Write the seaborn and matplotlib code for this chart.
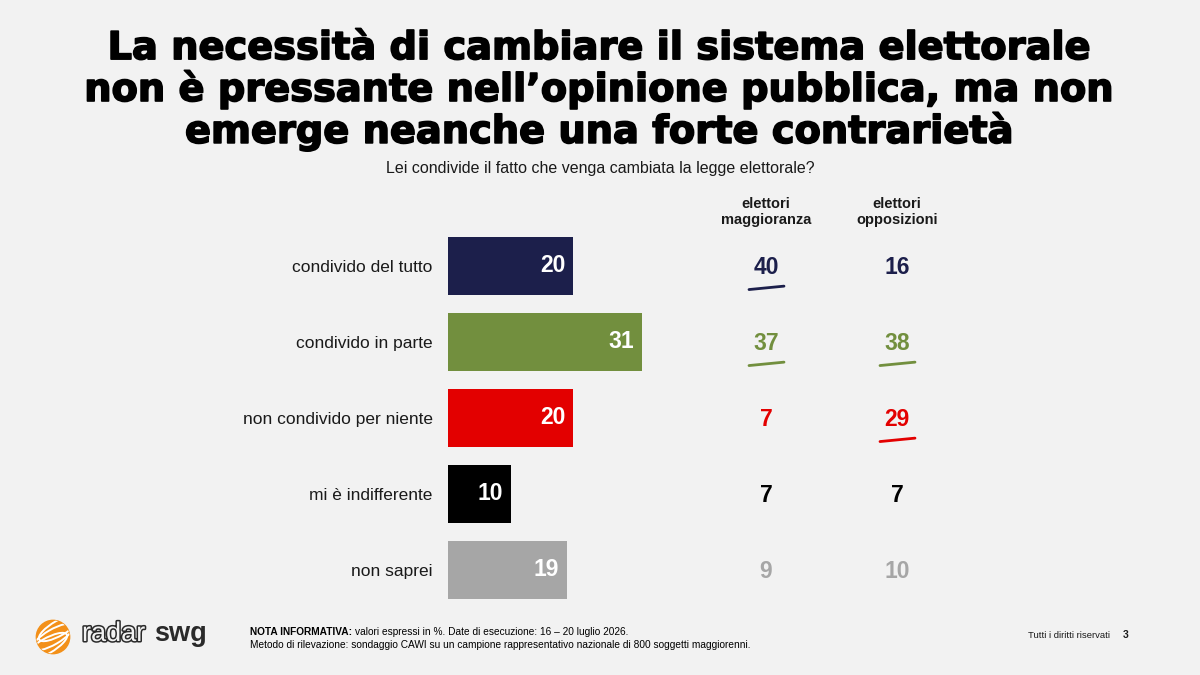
import matplotlib.pyplot as plt
import matplotlib.patheffects as pe
from matplotlib.transforms import blended_transform_factory
from matplotlib.patches import Circle, Ellipse
import seaborn as sns
import pandas as pd

# dati del sondaggio
categorie = ['condivido del tutto', 'condivido in parte', 'non condivido per niente',
             'mi è indifferente', 'non saprei']
totale = [20, 31, 20, 10, 19]
maggioranza = [40, 37, 7, 7, 9]
opposizioni = [16, 38, 29, 7, 10]
sottolinea_magg = [True, True, False, False, False]
sottolinea_opp = [False, True, True, False, False]
colori = ['#1c1f4b', '#728f3e', '#e30000', '#000000', '#a6a6a6']
colonne = ['elettori\nmaggioranza', 'elettori\nopposizioni']

BG = '#f2f2f2'
sns.set_theme(style='white')
plt.rcParams['font.family'] = ['Liberation Sans', 'DejaVu Sans']

df = pd.DataFrame({'categoria': categorie, 'valore': totale})

fig = plt.figure(figsize=(12, 6.75), dpi=100, facecolor=BG)
W, H = 1200, 675
ax = fig.add_axes([448 / W, 1 - 608 / H, 552 / W, 380 / H])
ax.set_facecolor(BG)

sns.barplot(data=df, x='valore', y='categoria', hue='categoria', palette=colori,
            width=0.763, legend=False, ax=ax, saturation=1, edgecolor='none')
ax.set_xlim(0, 552 / 6.25)
ax.set_ylim(4.5, -0.5)
ax.set_xlabel('')
ax.set_ylabel('')
ax.set_xticks([])
ax.tick_params(axis='y', length=0, pad=11, labelsize=12.5, labelcolor='#1a1a1a')
sns.despine(ax=ax, left=True, bottom=True)

# etichette dentro le barre
for i, v in enumerate(totale):
    ax.text(v - 1.2, i, str(v), ha='right', va='center', color='white',
            fontsize=16.5, fontweight='bold')

# colonne laterali
tr = blended_transform_factory(fig.transFigure, ax.transData)
col_x = [766 / W, 897 / W]
for cx, nome in zip(col_x, colonne):
    fig.text(cx, 1 - 212 / H, nome, ha='center', va='center', fontsize=10.5,
             fontweight='bold', color='#1a1a1a', linespacing=1.15)

for cx, valori, sott in [(col_x[0], maggioranza, sottolinea_magg),
                         (col_x[1], opposizioni, sottolinea_opp)]:
    for i, (v, s) in enumerate(zip(valori, sott)):
        ax.text(cx, i + 0.02, str(v), transform=tr, ha='center', va='center',
                fontsize=16.5, fontweight='bold', color=colori[i])
        if s:
            ax.plot([cx - 17 / W, cx + 18 / W], [i + 0.31, i + 0.265], transform=tr,
                    color=colori[i], lw=2, clip_on=False, solid_capstyle='round')

# titolo
titolo = ('La necessità di cambiare il sistema elettorale\n'
          'non è pressante nell’opinione pubblica, ma non\n'
          'emerge neanche una forte contrarietà')
fig.text(0.5, 1 - 91 / H, titolo, ha='center', va='center', fontsize=27.6,
         fontweight='bold', color='black', linespacing=1.13, family='DejaVu Sans',
         path_effects=[pe.withStroke(linewidth=1.2, foreground='black')])
fig.text(0.5, 1 - 168 / H, 'Lei condivide il fatto che venga cambiata la legge elettorale?',
         ha='center', va='center', fontsize=11.5, color='#1a1a1a')

# note a piè di pagina
fig.canvas.draw()
r = fig.canvas.get_renderer()
nota = fig.text(250 / W, 1 - 632 / H, 'NOTA INFORMATIVA:', ha='left', va='center',
                fontsize=7.3, fontweight='bold', color='black')
x_fine = nota.get_window_extent(r).x1 / W
fig.text(x_fine + 3 / W, 1 - 632 / H, 'valori espressi in %. Date di esecuzione: 16 – 20 luglio 2026.',
         ha='left', va='center', fontsize=7.3, color='black')
fig.text(250 / W, 1 - 645 / H,
         'Metodo di rilevazione: sondaggio CAWI su un campione rappresentativo nazionale di 800 soggetti maggiorenni.',
         ha='left', va='center', fontsize=7.3, color='black')
fig.text(1028 / W, 1 - 635 / H, 'Tutti i diritti riservati', ha='left', va='center',
         fontsize=6.8, color='#1a1a1a')
fig.text(1126 / W, 1 - 635 / H, '3', ha='center', va='center', fontsize=7.5,
         fontweight='bold', color='#1a1a1a')

# logo
lax = fig.add_axes([33 / W, 1 - 657 / H, 40 / W, 40 / H])
lax.set_xlim(-1.2, 1.2)
lax.set_ylim(-1.2, 1.2)
lax.set_aspect('equal')
lax.axis('off')
sfera = Circle((0, 0), 1.0, color='#f39019')
lax.add_patch(sfera)
for d in [-0.55, 0.0, 0.55]:
    e = Ellipse((d * 0.7, d), 2.8, 0.9, angle=30, fill=False, ec='white', lw=1.4)
    lax.add_patch(e)
    e.set_clip_path(sfera)
fig.text(82 / W, 1 - 634 / H, 'radar', ha='left', va='center', fontsize=19.5, color=BG,
         path_effects=[pe.withStroke(linewidth=2.2, foreground='#2a2a2a')])
fig.text(154 / W, 1 - 634 / H, 'swg', ha='left', va='center', fontsize=19.5,
         fontweight='bold', color='#2a2a2a')

fig.savefig('out.png', dpi=100, facecolor=BG)
